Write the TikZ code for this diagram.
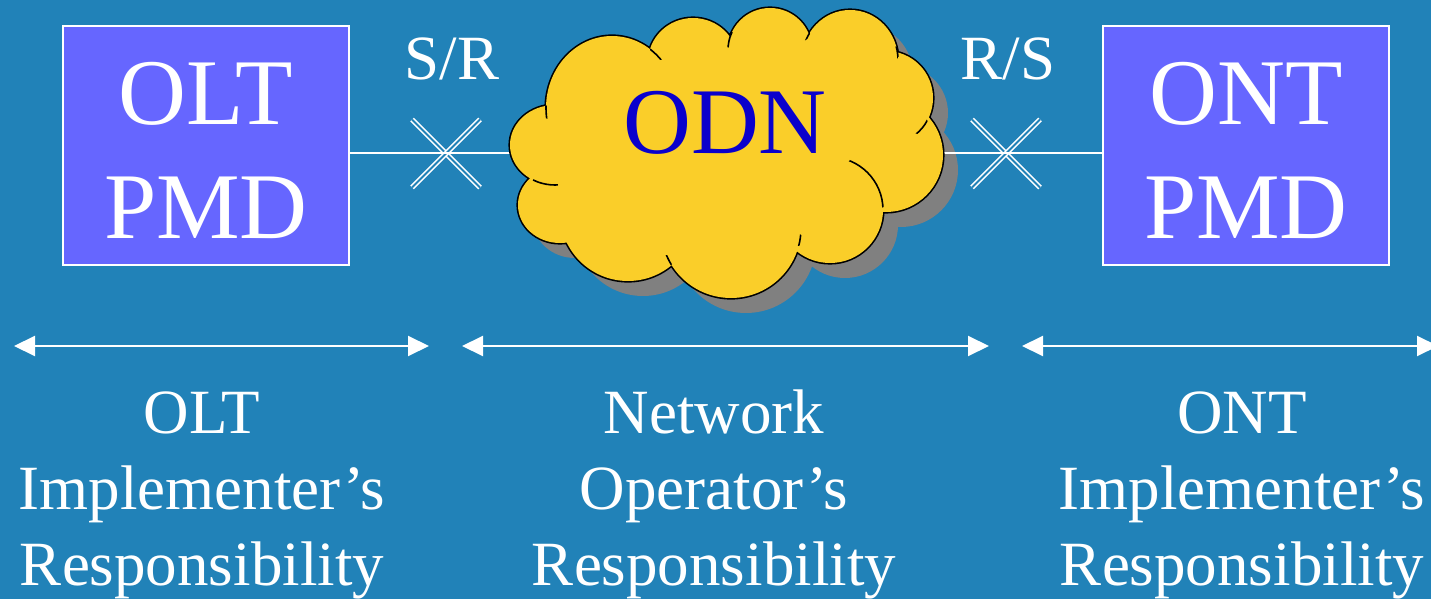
\documentclass[tikz,border=0pt]{standalone}
\usepackage{fontspec}
\setmainfont{Liberation Serif}
\usetikzlibrary{arrows.meta}
\definecolor{bgblue}{RGB}{33,130,184}
\definecolor{boxblue}{RGB}{102,102,255}
\definecolor{cloudyellow}{RGB}{250,206,41}
\definecolor{shadowgray}{RGB}{128,128,128}
\definecolor{odnblue}{RGB}{10,0,204}
\newcommand{\cloudbumps}{%
 (612,108) ellipse[x radius=66,y radius=72]
 (693,62) ellipse[x radius=45,y radius=44]
 (770,50) ellipse[x radius=42,y radius=42]
 (850,60) ellipse[x radius=48,y radius=50]
 (886,98) ellipse[x radius=47,y radius=47]
 (886,155) ellipse[x radius=57,y radius=57]
 (830,210) ellipse[x radius=53,y radius=53]
 (731,228) ellipse[x radius=70,y radius=70]
 (628,213) ellipse[x radius=68,y radius=68]
 (560,205) ellipse[x radius=42,y radius=38]
 (555,145) ellipse[x radius=45,y radius=40]}
\newcommand{\cloudcore}{(725,150) ellipse[x radius=170,y radius=100]}
\newcommand{\topstrut}{\rule{0pt}{36pt}}
\tikzset{
  pmd/.style={draw=white, line width=1pt, fill=boxblue, text=white,
    minimum width=143pt, minimum height=119pt, inner sep=0pt, align=center,
    font=\fontsize{47}{57}\selectfont},
  conn/.style={draw=white, line width=1pt},
  xmark/.style={draw=white, line width=0.75pt, double=bgblue, double distance=1pt},
  refpt/.style={text=white, font=\fontsize{31.5}{38}\selectfont, anchor=base, inner sep=0pt},
  resp/.style={text=white, font=\fontsize{31.5}{38}\selectfont, anchor=base, align=center, inner sep=0pt},
  span/.style={draw=white, line width=1pt, {Triangle[length=10.5pt,width=10pt]}-{Triangle[length=10.5pt,width=10pt]}},
  cloudline/.style={draw=black, line width=0.8pt},
}
\begin{document}
\begin{tikzpicture}[x=0.5pt,y=-0.5pt]
\fill[bgblue] (0,0) rectangle (1431,599);
\useasboundingbox (0,0) rectangle (1431,599);

% boxes
\node[pmd] (olt) at (206,145.5) {\topstrut OLT\\PMD};
\node[pmd] (ont) at (1246,145.5) {\topstrut ONT\\PMD};

% reference points
\coordinate (sr) at (446,153.5);
\coordinate (rs) at (1006,153.5);
\coordinate (odnL) at (530,153.5);
\coordinate (odnR) at (925,153.5);

% cloud shadow
\fill[shadowgray, shift={(15,15)}] \cloudbumps \cloudcore;

% X marks
\draw[xmark] ([shift={(-34,-34)}]sr) -- ([shift={(34,34)}]sr);
\draw[xmark] ([shift={(-34,34)}]sr) -- ([shift={(34,-34)}]sr);
\draw[xmark] ([shift={(-34,-34)}]rs) -- ([shift={(34,34)}]rs);
\draw[xmark] ([shift={(-34,34)}]rs) -- ([shift={(34,-34)}]rs);

% connectors
\draw[conn] (olt.east |- sr) -- (odnL);
\draw[conn] (odnR) -- (ont.west |- rs);

% cloud
\draw[black, line width=1.6pt] \cloudbumps;
\fill[cloudyellow] \cloudbumps \cloudcore;
\begin{scope}\clip (660,50) circle[radius=10]; \draw[cloudline] (612,108) ellipse[x radius=66,y radius=72];\end{scope}
\begin{scope}\clip (731,40) circle[radius=8]; \draw[cloudline] (770,50) ellipse[x radius=42,y radius=42];\end{scope}
\begin{scope}\clip (802,33) circle[radius=8]; \draw[cloudline] (850,60) ellipse[x radius=48,y radius=50];\end{scope}
\begin{scope}\clip (893,53) circle[radius=7]; \draw[cloudline] (850,60) ellipse[x radius=48,y radius=50];\end{scope}
\begin{scope}\clip (918,124) circle[radius=10]; \draw[cloudline] (886,98) ellipse[x radius=47,y radius=47];\end{scope}
\begin{scope}\clip (873,179) circle[radius=30]; \draw[cloudline] (830,210) ellipse[x radius=53,y radius=53];\end{scope}
\begin{scope}\clip (798,240) circle[radius=6]; \draw[cloudline] (731,228) ellipse[x radius=70,y radius=70];\end{scope}
\begin{scope}\clip (667,261) circle[radius=6]; \draw[cloudline] (731,228) ellipse[x radius=70,y radius=70];\end{scope}
\begin{scope}\clip (545,185) circle[radius=13]; \draw[cloudline] (555,145) ellipse[x radius=45,y radius=40];\end{scope}
\begin{scope}\clip (549,112) circle[radius=7]; \draw[cloudline] (612,108) ellipse[x radius=66,y radius=72];\end{scope}
\node[text=odnblue, font=\fontsize{47}{57}\selectfont, anchor=base, inner sep=0pt] (odn) at (725,154) {ODN};

% reference point labels
\node[refpt] (srlabel) at (452,80) {S/R};
\node[refpt] (rslabel) at (1008,80) {R/S};

% responsibility spans
\coordinate (l1) at (14,346);
\coordinate (l2) at (429,346);
\coordinate (m1) at (462,346);
\coordinate (m2) at (989,346);
\coordinate (r1) at (1022,346);
\coordinate (r2) at (1438,346);
\draw[span] (l1) -- (l2);
\draw[span] (m1) -- (m2);
\draw[span] (r1) -- (r2);

\node[resp] (oltresp) at (202,585) {OLT\\Implementer’s\\Responsibility};
\node[resp] (netresp) at (714,585) {Network\\Operator’s\\Responsibility};
\node[resp] (ontresp) at (1242,585) {ONT\\Implementer’s\\Responsibility};
\end{tikzpicture}
\end{document}
